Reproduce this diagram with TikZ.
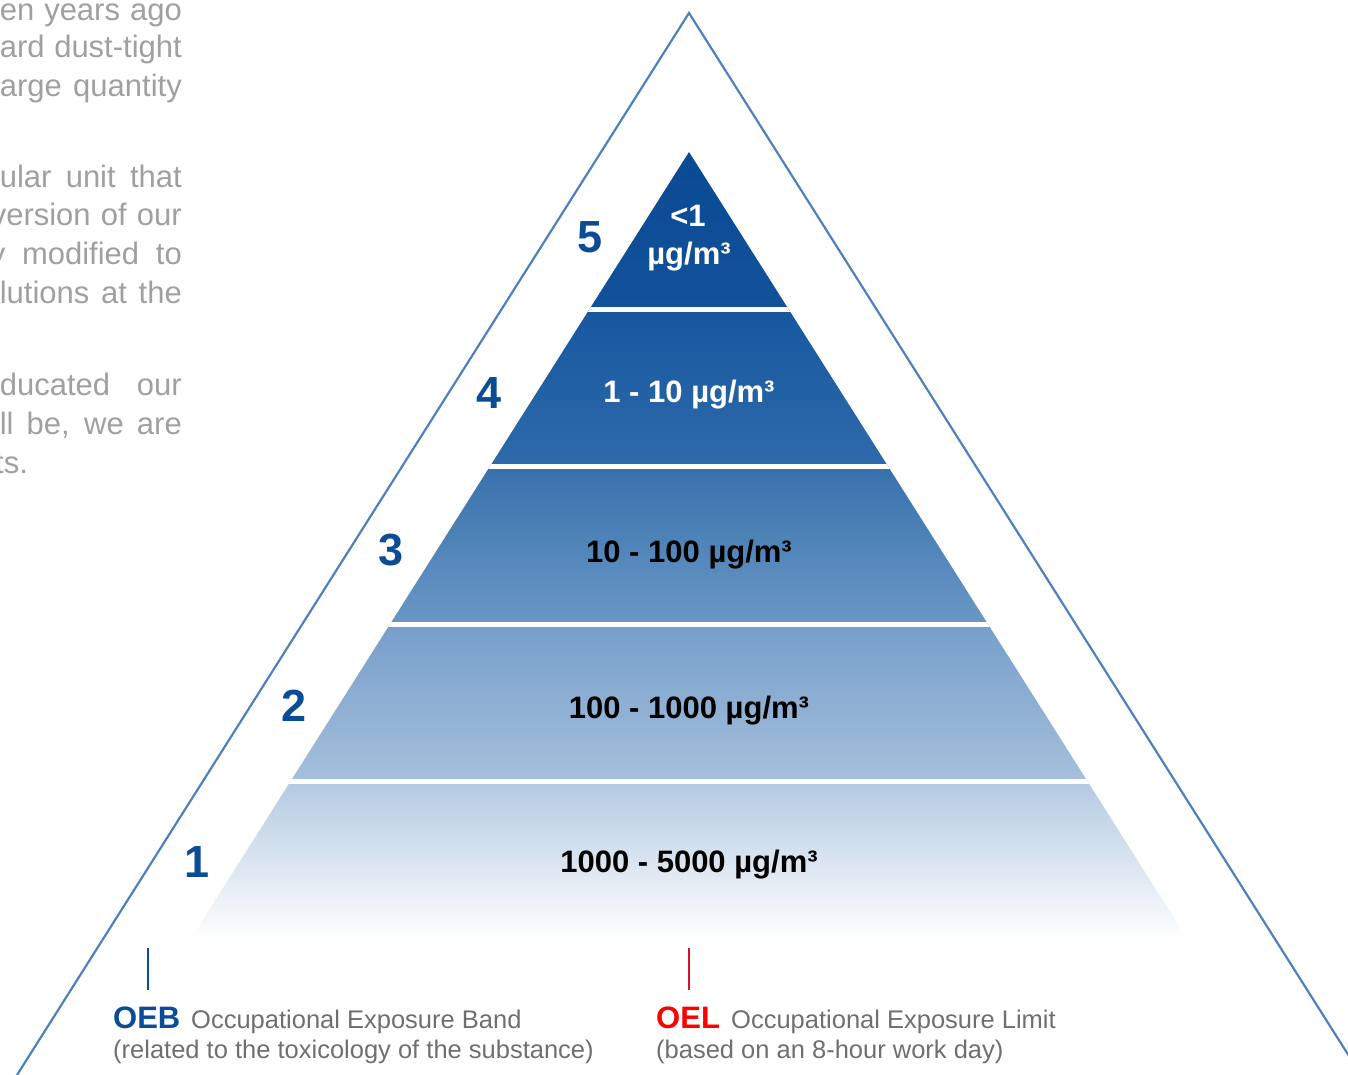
\documentclass[tikz,border=0pt]{standalone}
\usepackage{fontspec}
\setmainfont{Liberation Sans}
\definecolor{oebblue}{HTML}{0B4C94}
\definecolor{outline}{HTML}{4F81BD}
\definecolor{paragrey}{HTML}{A0A0A0}
\definecolor{leggrey}{HTML}{6F6F6F}
\definecolor{oelred}{HTML}{FF0000}
\definecolor{tickred}{HTML}{D7102B}
\definecolor{bfivetop}{HTML}{0A4A92}
\definecolor{bfivebot}{HTML}{11529A}
\definecolor{bfourtop}{HTML}{16579F}
\definecolor{bfourbot}{HTML}{2F6BAB}
\definecolor{bthreetop}{HTML}{3771AD}
\definecolor{bthreebot}{HTML}{6A98C5}
\definecolor{btwotop}{HTML}{769FCA}
\definecolor{btwobot}{HTML}{A6C0DC}
\definecolor{bonetop}{HTML}{B4CAE2}
\begin{document}
\begin{tikzpicture}[x=1pt,y=-1pt,
  num/.style={text=oebblue, font=\fontsize{45}{50}\selectfont\bfseries, anchor=base, inner sep=0pt},
  bandlabel/.style={font=\fontsize{31}{36}\selectfont\bfseries, anchor=base, inner sep=0pt},
  para/.style={text=paragrey, font=\fontsize{31}{38}\selectfont, anchor=base east, inner sep=0pt},
  leg/.style={text=leggrey, font=\fontsize{25.5}{30}\selectfont, anchor=base west, inner sep=0pt},
  abbr/.style={font=\fontsize{31}{36}\selectfont\bfseries, anchor=base west, inner sep=0pt},
  outer/.style={draw=outline, line width=2.2pt},
  sep/.style={draw=white, line width=5pt},
  tick/.style={line width=2pt}
]
\useasboundingbox (0,0) rectangle (1348,1075);
\clip (0,0) rectangle (1348,1075);

% outer triangle
\draw[outer] (17,1075) -- (689,13) -- (1361,1075);

% inner pyramid
\begin{scope}
  \clip (689,152) -- (190,940) -- (1188,940) -- cycle;
  \shade[top color=bfivetop, bottom color=bfivebot] (150,150) rectangle (1230,310);
  \shade[top color=bfourtop, bottom color=bfourbot] (150,310) rectangle (1230,467);
  \shade[top color=bthreetop, bottom color=bthreebot] (150,467) rectangle (1230,625);
  \shade[top color=btwotop, bottom color=btwobot] (150,625) rectangle (1230,782);
  \shade[top color=bonetop, bottom color=white] (150,782) rectangle (1230,940);
  \draw[sep] (150,309) -- (1230,309);
  \draw[sep] (150,466) -- (1230,466);
  \draw[sep] (150,624) -- (1230,624);
  \draw[sep] (150,781) -- (1230,781);
\end{scope}

% level numbers
\node[num] (n5) at (590,252) {5};
\node[num] (n4) at (489,408) {4};
\node[num] (n3) at (391,565) {3};
\node[num] (n2) at (294,721) {2};
\node[num] (n1) at (197,877) {1};

% band labels
\node[bandlabel, text=white] (l5a) at (688,227) {<1};
\node[bandlabel, text=white] (l5b) at (689,264) {µg/m³};
\node[bandlabel, text=white] (l4) at (689,402) {1 - 10 µg/m³};
\node[bandlabel, text=black] (l3) at (689,562) {10 - 100 µg/m³};
\node[bandlabel, text=black] (l2) at (689,718) {100 - 1000 µg/m³};
\node[bandlabel, text=black] (l1) at (689,872) {1000 - 5000 µg/m³};

% clipped paragraph text on the left
\node[para] (p1) at (182,21) {\makebox[182pt][s]{en years ago}};
\node[para] (p2) at (182,58) {\makebox[182pt][s]{ard dust-tight}};
\node[para] (p3) at (182,97) {\makebox[182pt][s]{arge quantity}};
\node[para] (p4) at (182,188) {\makebox[182pt][s]{ular unit that}};
\node[para] (p5) at (182,226) {\makebox[191pt][s]{version of our}};
\node[para] (p6) at (182,265) {\makebox[192pt][s]{y modified to}};
\node[para] (p7) at (182,303) {\makebox[182pt][s]{lutions at the}};
\node[para] (p8) at (182,395) {\makebox[182pt][s]{ducated our}};
\node[para] (p9) at (182,434) {\makebox[182pt][s]{ll be, we are}};
\node[para, anchor=base west] (p10) at (-5,473) {ts.};

% legend
\node[abbr, text=oebblue] (oeb) at (113,1028) {OEB};
\node[leg] (oebt) at (191,1028) {Occupational Exposure Band};
\node[leg] (oebs) at (113,1058) {(related to the toxicology of the substance)};
\node[abbr, text=oelred] (oel) at (656,1028) {OEL};
\node[leg] (oelt) at (731,1028) {Occupational Exposure Limit};
\node[leg] (oels) at (656,1058) {(based on an 8-hour work day)};

\coordinate (oebtop) at (148,948);
\coordinate (oeltop) at (689,948);
\draw[tick, draw=oebblue] (oebtop) -- (oebtop |- 0,990);
\draw[tick, draw=tickred] (oeltop) -- (oeltop |- 0,990);
\end{tikzpicture}
\end{document}
